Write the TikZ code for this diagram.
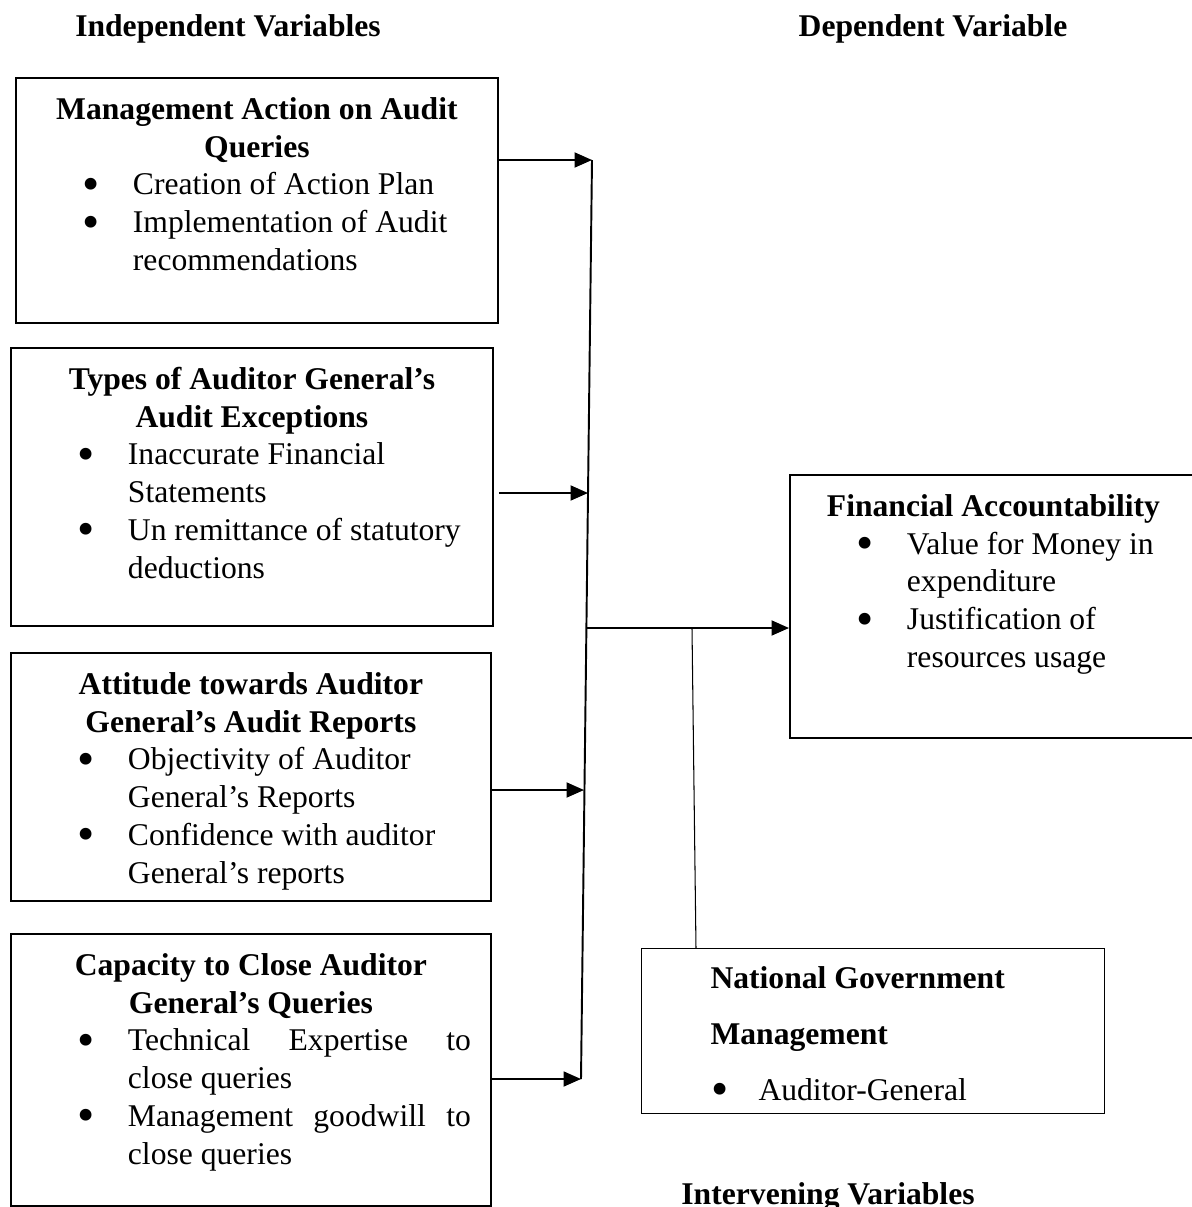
\documentclass[tikz,border=0pt]{standalone}
\usepackage{fontspec}
\setmainfont{Liberation Serif}
\usetikzlibrary{arrows.meta, positioning}

%% big round bullet, as in the source
\newcommand{\bigdot}{\smash{\raisebox{-3.2pt}{\fontsize{28}{28}\selectfont\textbullet}}}
%% bullet list used inside the boxes
\newenvironment{points}{%
  \begin{list}{\bigdot}{\setlength{\leftmargin}{2.34cm}\setlength{\labelsep}{0.66cm}%
    \setlength{\labelwidth}{0.4cm}\setlength{\itemsep}{0pt}\setlength{\parsep}{0pt}%
    \setlength{\topsep}{0pt}\setlength{\partopsep}{0pt}\setlength{\rightmargin}{0.4cm}}%
  \raggedright}{\end{list}}
%% box body: width, height, bold title, bullets
\newcommand{\varbody}[4]{%
  \begin{minipage}[t][#2][t]{#1}%
    {\centering\bfseries\rule{0pt}{23.5pt}#3\par}#4%
  \end{minipage}}

\begin{document}
\begin{tikzpicture}[x=0.02cm, y=-0.02cm, >={Triangle[length=0.35cm, width=0.3cm]},
  font=\fontsize{18}{21.5}\selectfont,
  varbox/.style={draw, line width=1.1pt, inner sep=0pt, anchor=north west},
  modbox/.style={draw, line width=0.6pt, inner sep=0pt, anchor=north west},
  head/.style={font=\fontsize{18}{21.5}\selectfont\bfseries, anchor=base},
  arr/.style={->, line width=1.1pt},
  bus/.style={line width=1.1pt},
  tie/.style={line width=0.6pt}
]
\useasboundingbox (0,0) rectangle (1192,1207);

%% ---- Headings ----
\node[head] (indep) at (228,36) {Independent Variables};
\node[head] (dep)   at (933,36) {Dependent Variable};
\node[head] (inter) at (828,1204) {Intervening Variables};

%% ---- Independent variables (left column) ----
\node[varbox] (mgmt) at (15,77) {\varbody{9.64cm}{4.9cm}{Management Action on Audit\\Queries}{%
  \begin{points}
    \item Creation of Action Plan
    \item Implementation of Audit\newline recommendations
  \end{points}}};
\node[varbox] (types) at (10,347) {\varbody{9.64cm}{5.56cm}{Types of Auditor General's\\Audit Exceptions}{%
  \begin{points}
    \item Inaccurate Financial\newline Statements
    \item Un remittance of statutory\newline deductions
  \end{points}}};
\node[varbox] (attitude) at (10,652) {\varbody{9.6cm}{4.96cm}{Attitude towards Auditor\\General's Audit Reports}{%
  \begin{points}
    \item Objectivity of Auditor\newline General's Reports
    \item Confidence with auditor\newline General's reports
  \end{points}}};
\node[varbox] (capacity) at (10,933) {\varbody{9.6cm}{5.44cm}{Capacity to Close Auditor\\General's Queries}{%
  \begin{points}\rightskip=0pt\relax
    \item Technical Expertise to\linebreak close queries
    \item Management goodwill to\linebreak close queries
  \end{points}}};

%% ---- Dependent variable ----
\node[varbox] (fa) at (789,474) {\varbody{8.14cm}{5.26cm}{Financial Accountability}{%
  \begin{points}
    \item Value for Money in\newline expenditure
    \item Justification of\newline resources usage
  \end{points}}};

%% ---- Intervening variable ----
\node[modbox, font=\fontsize{18}{31.9}\selectfont] (ng) at (641,948) {%
  \begin{minipage}[t][3.3cm][t]{9.26cm}%
    {\leftskip=1.38cm\bfseries\rule{0pt}{22.5pt}National Government\\Management\par}%
    \begin{points}\setlength{\labelsep}{0.6cm}
      \item Auditor-General
    \end{points}%
  \end{minipage}};

%% ---- Collector line ----
\coordinate (bustop) at (592,160);
\coordinate (b2)     at (588,493);
\coordinate (hub)    at (586,628);
\coordinate (b3)     at (584,790);
\coordinate (busbot) at (581,1079);
\coordinate (tap)    at (692,628);
\draw[bus] (bustop) -- (busbot);

%% ---- Arrows ----
\draw[arr] (mgmt.east |- bustop) -- (bustop);
\draw[arr] ([xshift=0.1cm]types.east |- b2) -- (b2);
\draw[arr] (attitude.east |- b3) -- (b3);
\draw[arr] (capacity.east |- busbot) -- (busbot);
\draw[arr] (hub) -- (fa.west |- hub);
\draw[tie] (tap) -- ([xshift=1.1cm]ng.north west);

\end{tikzpicture}
\end{document}
